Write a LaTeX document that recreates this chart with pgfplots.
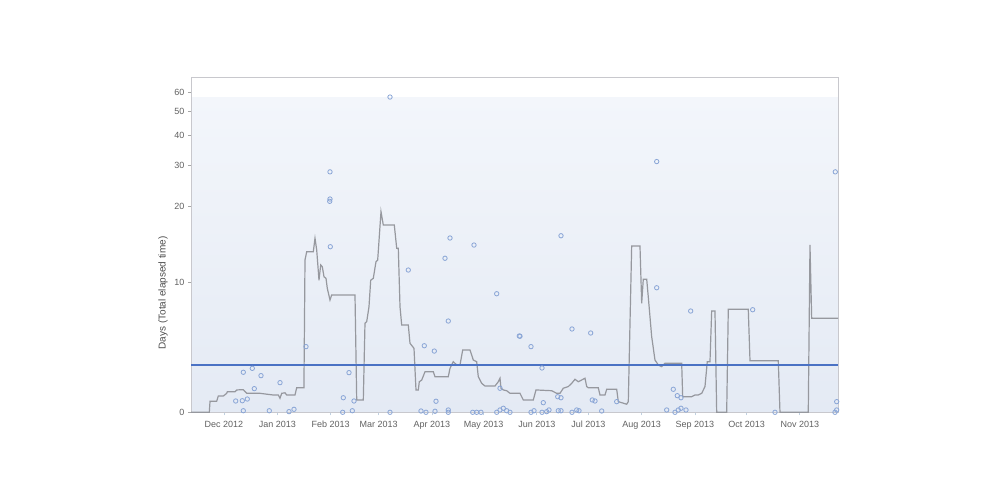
\documentclass[border=0pt]{standalone}
\usepackage{fontspec}
\setmainfont{Liberation Sans}
\usepackage{pgfplots}
\pgfplotsset{compat=1.18}
\definecolor{ptcol}{RGB}{137,165,214}
\definecolor{avgcol}{RGB}{150,152,158}
\definecolor{meancol}{RGB}{74,114,196}
\definecolor{bgtop}{RGB}{243,246,251}
\definecolor{bgbot}{RGB}{228,234,244}
\definecolor{tickcol}{RGB}{96,96,96}
\definecolor{bordercol}{RGB}{200,200,205}
% days -> vertical position of the chart's scale (linear below 10 days, logarithmic above)
\newcommand\daypos{13*min(\thisrowno{1},10)+105.8*ln(max(\thisrowno{1},10)/10)}
\begin{document}
\begin{tikzpicture}
\begin{axis}[
  set layers,
  at={(0pt,0pt)}, anchor=south west,
  scale only axis, width=647pt, height=335pt,
  xmin=-19.2, xmax=357.2,
  ymin=0, ymax=335,
  ytick={0,130,206.3,247.3,277,300.6,319.6},
  yticklabels={0,10,20,30,40,50,60},
  xtick={0,31,62,90,121,151,182,212,243,274,304,335},
  xticklabels={Dec 2012,Jan 2013,Feb 2013,Mar 2013,Apr 2013,May 2013,Jun 2013,Jul 2013,Aug 2013,Sep 2013,Oct 2013,Nov 2013},
  tick align=outside,
  x tick style={draw={rgb,255:red,192;green,208;blue,224}, line width=0.8pt},
  y tick style={draw=gray!70, line width=0.6pt},
  xtick pos=bottom, ytick pos=left,
  major tick length=3pt,
  tick label style={font=\fontsize{9}{10}\selectfont, text=tickcol},
  xticklabel style={yshift=-2pt},
  /pgf/number format/assume math mode=true,
  axis line style={draw=bordercol, line width=0.8pt},
  ylabel={Days (Total elapsed time)},
  ylabel style={at={(axis description cs:-0.0433,0.356)}, anchor=center, font=\fontsize{10}{12}\selectfont, text={rgb,255:red,77;green,77;blue,77}},
  clip=false,
]
\begin{pgfonlayer}{axis background}
\fill[white] (axis cs:-19.2,315.2) rectangle (axis cs:357.2,335);
\shade[top color=bgtop, bottom color=bgbot] (axis cs:-19.2,0) rectangle (axis cs:357.2,315.2);
\end{pgfonlayer}

% rolling average (days)
\addplot[avgcol, line width=1.2pt, mark=none] table[y expr={\daypos}] {
-19.2 0
-8.55 0
-8.14 0.85
-4.25 0.85
-3.32 1.25
-0.41 1.25
1.57 1.46
1.92 1.58
6.40 1.58
7.39 1.72
11.23 1.74
13.21 1.46
20.94 1.46
28.68 1.33
31.59 1.33
32.58 1.08
33.57 1.46
35.49 1.50
36.47 1.33
41.30 1.33
42.29 1.89
46.50 1.89
47.12 12.35
48.11 13.35
51.95 13.35
52.94 15.16
53.93 13.57
55.26 10.2
56.25 11.78
57.18 11.59
58.17 10.54
59.34 10.38
60.09 9.54
61.66 8.64
62.65 9.02
76.21 9.02
77.20 0.95
81.04 0.95
82.02 6.85
83.01 6.97
84.35 8.12
85.34 10.2
86.85 10.38
88.42 12.15
89.41 12.35
91.33 19.5
92.67 17.19
99.07 17.19
100.47 13.79
101.40 13.79
102.39 8.12
103.37 6.72
107.21 6.72
108.20 5.31
110.53 4.92
111.69 1.72
113.03 1.72
113.61 2.35
115.01 2.48
116.93 3.12
121.76 3.12
122.75 2.74
130.48 2.74
131.47 3.38
133.39 3.89
135.37 3.64
137.29 3.64
138.86 4.79
143.11 4.79
145.03 4.02
147.0 3.89
147.93 2.74
149.91 2.23
151.83 2.02
157.65 2.02
159.57 2.35
160.56 2.62
161.14 1.85
162.48 1.72
164.46 1.66
166.38 1.46
172.19 1.46
174.11 0.95
179.93 0.95
181.50 1.72
190.63 1.66
193.54 1.46
195.46 1.46
197.38 1.85
200.29 1.98
202.27 2.23
204.19 2.54
206.11 2.35
210.01 2.62
211.0 1.98
211.93 1.89
217.74 1.89
218.73 1.33
221.64 1.33
222.63 1.77
228.45 1.77
229.38 0.82
234.26 0.62
235.2 0.82
237.17 14.1
242.0 14.1
242.99 8.38
243.92 10.3
245.9 10.3
246.82 8.89
248.8 5.82
250.73 4.02
252.65 3.64
254.62 3.51
255.56 3.64
256.54 3.77
266.26 3.77
266.84 1.2
272.08 1.2
274.0 1.33
275.92 1.33
277.9 1.46
279.81 1.98
281.15 3.89
282.72 3.89
283.71 7.79
285.63 7.79
286.62 0
292.44 0
293.37 7.92
305.0 7.92
306.0 3.97
322.46 3.97
323.44 0
339.9 0
340.9 14.23
341.88 7.23
357.2 7.23
};

% mean line (days)
\addplot[meancol, line width=1.2pt, mark=none] table[y expr={\daypos}] {
-19.2 3.64
357.2 3.64
};

% issues (days)
\addplot[only marks, mark=o, mark size=2.2pt, mark options={draw=ptcol, line width=0.8pt}] table[y expr={\daypos}] {
11.23 3.08
16.46 3.38
21.52 2.82
32.58 2.28
17.63 1.82
6.81 0.87
10.65 0.89
13.55 1.02
11.23 0.12
26.35 0.12
37.81 0.05
40.72 0.23
47.70 5.05
61.84 14.0
61.66 28.4
61.66 21.97
61.5 21.5
72.72 3.05
69.40 1.12
75.63 0.87
69.05 0
74.64 0.12
96.57 57.6
96.57 0
107.21 11.23
116.52 5.12
122.34 4.71
131.47 15.2
128.56 12.55
145.43 14.22
158.64 9.12
130.48 7.02
171.79 5.87
123.33 0.85
114.6 0.1
117.5 0
122.75 0.08
130.48 0.18
130.48 0
144.68 0
147.0 0
149.5 0
158.64 0
160.56 0.18
162.48 0.31
164.46 0.12
166.38 0
160.56 1.85
196.04 15.53
202.44 6.41
213.32 6.1
172.19 5.85
178.59 5.05
184.99 3.41
185.75 0.74
194.13 1.2
196.04 1.12
214.25 0.95
215.82 0.87
228.45 0.82
178.59 0
180.34 0.12
184.99 0
187.73 0.05
189.06 0.18
194.47 0.12
196.04 0.12
202.44 0
205.18 0.18
206.52 0.12
219.72 0.1
251.72 31.3
251.72 9.58
271.49 7.79
261.37 1.77
263.7 1.28
265.85 1.12
257.53 0.18
262.36 0
264.28 0.18
265.85 0.31
268.76 0.18
307.56 7.89
320.54 0
355.61 28.4
356.43 0.82
355.44 0
356.43 0.18
};
\end{axis}
\path (-191pt,-90.7pt) rectangle (809pt,412.3pt);
\end{tikzpicture}
\end{document}
